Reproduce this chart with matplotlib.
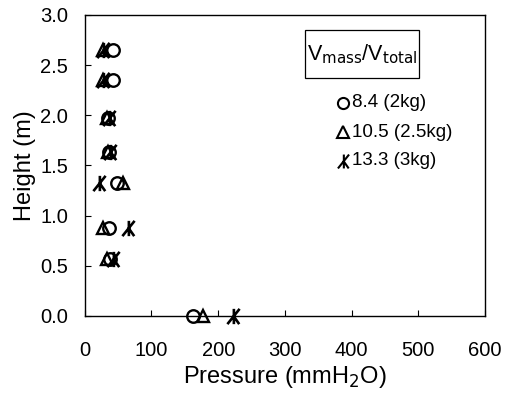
import matplotlib
matplotlib.use("Agg")
import matplotlib.pyplot as plt
from matplotlib.path import Path
from matplotlib.patches import Rectangle

plt.rcParams['font.family'] = ['Liberation Sans', 'DejaVu Sans']

heights = [0.0, 0.57, 0.88, 1.33, 1.63, 1.97, 2.35, 2.65]
p_84 = [162, 38, 37, 49, 37, 35, 43, 42]
p_105 = [177, 33, 27, 57, 35, 33, 28, 27]
p_133 = [222, 42, 65, 21, 38, 37, 28, 28]
labels = ["8.4 (2kg)", "10.5 (2.5kg)", "13.3 (3kg)"]
xticks = [0, 100, 200, 300, 400, 500, 600]
yticks = [0.0, 0.5, 1.0, 1.5, 2.0, 2.5, 3.0]

# custom "K-like" star marker
kverts = [(0.05, -1), (0.05, 1), (-0.8, -1), (0.8, 1), (0.05, 0.0), (0.75, -1)]
kcodes = [Path.MOVETO, Path.LINETO, Path.MOVETO, Path.LINETO, Path.MOVETO, Path.LINETO]
kmarker = Path(kverts, kcodes)

fig = plt.figure(figsize=(5.2, 3.93), dpi=100)
ax = fig.add_axes([0.163, 0.196, 0.77, 0.766])

ax.plot(p_84, heights, 'o', ms=9, mfc='none', mec='black', mew=1.7, ls='none', clip_on=False)
ax.plot(p_105, heights, '^', ms=9, mfc='none', mec='black', mew=1.7, ls='none', clip_on=False)
ax.plot(p_133, heights, marker=kmarker, ms=11, mfc='none', mec='black', mew=1.9, ls='none', clip_on=False)

ax.set_xlim(0, 600)
ax.set_ylim(0, 3.0)
ax.set_xticks(xticks)
ax.set_yticks(yticks)
ax.set_xticklabels([str(v) for v in xticks])
ax.set_yticklabels([f"{v:.1f}" for v in yticks])
ax.tick_params(direction='in', length=4, labelsize=14.5, colors='black')
ax.tick_params(axis='x', pad=18)
ax.tick_params(axis='y', pad=12)
ax.set_xlabel("Pressure (mmH$_2$O)", fontsize=17, labelpad=3)
ax.set_ylabel("Height (m)", fontsize=17, labelpad=3)
for s in ax.spines.values():
    s.set_linewidth(1.0)

# legend box
ax.add_patch(Rectangle((0.55, 0.79), 0.285, 0.16, transform=ax.transAxes,
                       fill=False, ec='black', lw=0.9))
ax.text(0.6925, 0.868, r"V$_{\mathrm{mass}}$/V$_{\mathrm{total}}$", transform=ax.transAxes,
        ha='center', va='center', fontsize=15.5)
ly = [0.708, 0.611, 0.515]
mk = ['o', '^', kmarker]
for y, m, lab in zip(ly, mk, labels):
    ax.plot([0.645], [y], marker=m, ms=8 if m != kmarker else 10, mfc='none', mec='black',
            mew=1.5, ls='none', transform=ax.transAxes, clip_on=False)
    ax.text(0.668, y, lab, transform=ax.transAxes, ha='left', va='center', fontsize=13.5)

fig.savefig("out.png", dpi=100)
